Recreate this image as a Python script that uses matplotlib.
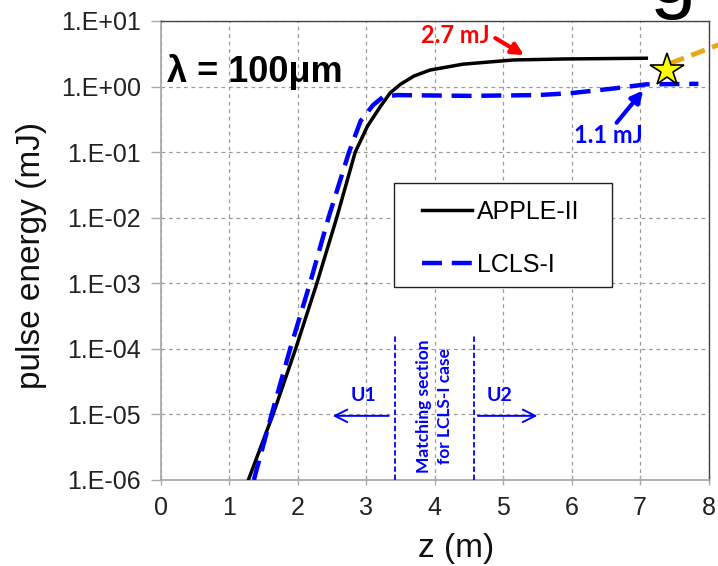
import matplotlib
matplotlib.use("Agg")
import matplotlib.pyplot as plt
import numpy as np
from matplotlib.patches import Rectangle
from matplotlib.ticker import FixedLocator, FuncFormatter

plt.rcParams['font.family'] = ['Liberation Sans', 'DejaVu Sans']

# pulse energy (mJ) along the undulator, z in metres
z_apple = [1.28, 1.64, 1.97, 2.28, 2.57, 2.84, 3.02, 3.21, 3.35, 3.50, 3.70, 3.93, 4.41, 5.15, 5.88, 7.09]
e_apple = [1e-6, 1e-5, 1e-4, 1e-3, 1e-2, 0.1, 0.25, 0.5, 0.8, 1.08, 1.45, 1.78, 2.19, 2.54, 2.63, 2.7]

z_lcls = [1.36, 1.62, 1.89, 2.18, 2.45, 2.75, 2.92, 3.10, 3.25, 3.45, 4.5, 5.5, 5.98, 6.6, 7.09, 7.85]
e_lcls = [1e-6, 1e-5, 1e-4, 1e-3, 1e-2, 0.1, 0.3, 0.52, 0.70, 0.74, 0.72, 0.74, 0.79, 0.93, 1.08, 1.1]

# matching section boundaries (m)
match_start = 3.42
match_end = 4.57

# star marker and the dashed pointer leaving the frame
star_z, star_e = 7.39, 1.79
pointer_z = [7.44, 8.3]
pointer_e = [2.26, 5.0]

y_ticks = [1e-6, 1e-5, 1e-4, 1e-3, 1e-2, 1e-1, 1e0, 1e1]
x_ticks = [0, 1, 2, 3, 4, 5, 6, 7, 8]

fig = plt.figure(figsize=(7.18, 5.66), dpi=100)
ax = fig.add_axes([0.2238, 0.152, 0.7632, 0.811])

ax.plot(z_apple, e_apple, color='black', lw=2.5, label='APPLE-II', zorder=4)
ax.plot(z_lcls, e_lcls, color='#0000FF', lw=3.2, dashes=(4.5, 2.2), label='LCLS-I', zorder=5)

ax.set_yscale('log')
ax.set_xlim(0, 8)
ax.set_ylim(1e-6, 1e1)
ax.yaxis.set_major_locator(FixedLocator(y_ticks))
ax.yaxis.set_minor_locator(FixedLocator([]))
ax.yaxis.set_major_formatter(FuncFormatter(lambda v, p: "1.E%+03d" % int(round(np.log10(v)))))
ax.set_xticks(x_ticks)

ax.grid(True, which='major', color='#9a9a9a', lw=0.9, dashes=(3, 3))
ax.set_axisbelow(True)
ax.tick_params(axis='y', labelsize=18, pad=7, direction='out')
ax.tick_params(axis='x', labelsize=18, pad=8, direction='inout')
ax.tick_params(axis='both', labelcolor='#222222', color='#aaaaaa', length=7, width=1)
for s in ['left', 'bottom']:
    ax.spines[s].set_color('#aaaaaa')
    ax.spines[s].set_linewidth(1.3)
for s in ['top', 'right']:
    ax.spines[s].set_color('#444444')
    ax.spines[s].set_linewidth(1.0)

ax.set_xlabel('z (m)', fontsize=24, color='#111111')
ax.xaxis.set_label_coords(0.54, -0.115)
ax.set_ylabel('pulse energy (mJ)', fontsize=24, color='#111111')
ax.yaxis.set_label_coords(-0.207, 0.49)

# legend entries without their own frame, boxed separately
leg = ax.legend(loc='upper left', bbox_to_anchor=(0.477, 0.61), frameon=False, borderpad=0,
                borderaxespad=0, fontsize=18, handlelength=2.0, handletextpad=0.2, labelspacing=1.15)
leg.set_zorder(8)
box = Rectangle((0.426, 0.42), 0.398, 0.227, transform=ax.transAxes, facecolor='white',
                edgecolor='#222222', lw=1.0, zorder=7)
ax.add_patch(box)

ax.text(0.09, 1.19, 'λ = 100μm', fontsize=26, fontweight='bold', va='baseline', zorder=6)

bold = dict(family=['Lato', 'DejaVu Sans'], fontweight='bold')
ax.text(4.8, 5.9, '2.7 mJ', color='#FF0000', fontsize=17, ha='right', va='center', **bold)
ax.annotate('', xy=(5.34, 2.86), xytext=(4.85, 5.75),
            arrowprops=dict(arrowstyle='-|>,head_length=0.7,head_width=0.35', color='#FF0000', lw=3))
ax.text(6.03, 0.137, '1.1 mJ', color='#0000FF', fontsize=17, ha='left', va='baseline', **bold)
ax.annotate('', xy=(7.07, 0.94), xytext=(6.63, 0.26),
            arrowprops=dict(arrowstyle='-|>,head_length=0.7,head_width=0.35', color='#0000FF', lw=3))

# undulator sections
for zz in [match_start, match_end]:
    ax.plot([zz, zz], [1e-6, 1.7e-4], color='#0000FF', lw=1.3, dashes=(3, 1.5), zorder=3)
ax.text((match_start + match_end) / 2, 1.33e-5, 'Matching section\nfor LCLS-I case', rotation=90,
        color='#0000FF', fontsize=12.5, ha='center', va='center', linespacing=1.4, **bold)
ax.annotate('', xy=(2.47, 9.5e-6), xytext=(3.37, 9.5e-6),
            arrowprops=dict(arrowstyle='->,head_length=0.9,head_width=0.45', color='#0000FF', lw=1.4))
ax.annotate('', xy=(5.54, 9.5e-6), xytext=(4.59, 9.5e-6),
            arrowprops=dict(arrowstyle='->,head_length=0.9,head_width=0.45', color='#0000FF', lw=1.4))
ax.text(2.96, 1.58e-5, 'U1', color='#0000FF', fontsize=14, ha='center', va='baseline', **bold)
ax.text(4.94, 1.58e-5, 'U2', color='#0000FF', fontsize=14, ha='center', va='baseline', **bold)

ax.plot(pointer_z, pointer_e, color='#E6A817', lw=3.5, dashes=(3, 1.6), clip_on=False, zorder=6)
ax.plot([star_z], [star_e], marker='*', markersize=25, markerfacecolor='#FFFF00',
        markeredgecolor='black', markeredgewidth=1.2, clip_on=False, zorder=7)

fig.text(0.905, 0.995, 'g', fontsize=60, va='baseline', ha='left')

fig.savefig('out.png', dpi=100)
